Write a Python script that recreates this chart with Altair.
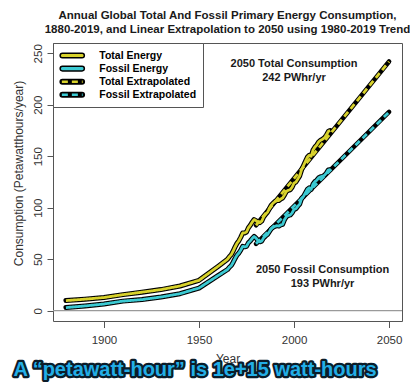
import altair as alt
import pandas as pd

# ---------------- data ----------------
years = [1880, 1890, 1900, 1910, 1920, 1930, 1940, 1950, 1960,
         1965, 1966, 1967, 1968, 1969, 1970, 1971, 1972, 1973, 1974,
         1975, 1976, 1977, 1978, 1979, 1980, 1981, 1982, 1983, 1984,
         1985, 1986, 1987, 1988, 1989, 1990, 1991, 1992, 1993, 1994,
         1995, 1996, 1997, 1998, 1999, 2000, 2001, 2002, 2003, 2004,
         2005, 2006, 2007, 2008, 2009, 2010, 2011, 2012, 2013, 2014,
         2015, 2016, 2017, 2018, 2019]

total_energy = [9.8, 11.2, 12.8, 15.6, 18.0, 20.5, 24.0, 29.5, 43.0,
                50.0, 52.5, 54.5, 58.0, 62.0, 65.5, 68.0, 71.5, 75.5, 75.5,
                76.5, 80.5, 83.0, 86.0, 88.5, 87.5, 86.0, 85.5, 87.0, 91.0,
                93.5, 95.5, 99.0, 102.5, 104.5, 106.0, 107.0, 107.0, 108.5, 109.5,
                112.5, 116.0, 117.0, 117.5, 120.0, 124.0, 125.0, 128.0, 131.0, 137.0,
                141.0, 145.0, 149.0, 151.0, 150.0, 156.0, 159.0, 161.0, 164.0, 165.5,
                166.5, 168.0, 170.5, 174.0, 175.0]

fossil_energy = [3.0, 4.6, 6.5, 9.3, 10.8, 13.3, 16.5, 22.0, 34.0,
                 40.0, 42.2, 43.9, 47.1, 50.8, 54.0, 56.0, 59.0, 62.5, 62.0,
                 62.5, 65.9, 67.8, 70.2, 72.1, 70.5, 68.2, 66.9, 67.6, 70.8,
                 72.5, 73.9, 76.8, 79.7, 81.1, 82.0, 82.6, 82.2, 83.3, 83.9,
                 88.5, 91.5, 92.5, 93.0, 95.0, 98.5, 99.0, 101.5, 103.6, 109.2,
                 111.0, 114.4, 117.8, 119.4, 117.8, 123.0, 125.4, 126.8, 129.2, 130.1,
                 130.5, 131.5, 133.6, 136.6, 137.0]

extrap_years = [1980, 2050]
total_extrap = [83, 242]
fossil_extrap = [65, 193]

series_names = ["Total Energy", "Fossil Energy", "Total Extrapolated", "Fossil Extrapolated"]
series_colors = ["#D8D22C", "#3CCAD3", "#D8D22C", "#3CCAD3"]
legend_fills = ["#D8D22C", "#3CCAD3", "#000000", "#000000"]
series_dashes = [[1, 0], [1, 0], [6, 4], [6, 4]]

ann_year = [2000, 2015]
ann_value = [240, 40]
ann_text = ["2050 Total Consumption\n242 PWhr/yr", "2050 Fossil Consumption\n193 PWhr/yr"]

title_lines = ["Annual Global Total And Fossil Primary Energy Consumption,",
               "1880-2019, and Linear Extrapolation to 2050 using 1980-2019 Trend"]
caption = "A \u201cpetawatt-hour\u201d is 1e+15 watt-hours"

x_ticks = [1900, 1950, 2000, 2050]
y_ticks = [0, 50, 100, 150, 200, 250]

# ---------------- table ----------------
rows = []
for yr, v in zip(years, total_energy):
    rows.append({"year": yr, "value": v, "series": series_names[0], "kind": "solid"})
for yr, v in zip(years, fossil_energy):
    rows.append({"year": yr, "value": v, "series": series_names[1], "kind": "solid"})
for yr, v in zip(extrap_years, total_extrap):
    rows.append({"year": yr, "value": v, "series": series_names[2], "kind": "extrap"})
for yr, v in zip(extrap_years, fossil_extrap):
    rows.append({"year": yr, "value": v, "series": series_names[3], "kind": "extrap"})
df = pd.DataFrame(rows)
# separate (non-merging) legend domain for the capsule backgrounds
fill_names = [s + " " for s in series_names]
df["series_fill"] = df["series"] + " "

ann_df = pd.DataFrame({"year": ann_year, "value": ann_value, "t": ann_text})
cap_df = pd.DataFrame({"t": [caption]})

FONT = "Liberation Sans"

xenc = alt.X("year:Q",
             scale=alt.Scale(domain=[1873.2, 2056.8], nice=False, zero=False),
             axis=alt.Axis(values=x_ticks, format="d", title="Year",
                           titleY=37, titleBaseline="middle",
                           labelPadding=6.5, tickSize=6.5))
yenc = alt.Y("value:Q",
             scale=alt.Scale(domain=[-10, 260], nice=False, zero=False),
             axis=alt.Axis(values=y_ticks, title="Consumption (Petawatthours/year)",
                           labelAngle=-90, labelAlign="center", labelBaseline="bottom",
                           labelPadding=4, tickSize=6,
                           titleX=-35, titleY=130, titleAngle=-90,
                           titleAlign="center", titleBaseline="middle"))

base = alt.Chart(df)

zero_rule = alt.Chart(pd.DataFrame({"value": [0]})).mark_rule(
    color="#9a9a9a", strokeWidth=1.2).encode(y=alt.Y("value:Q"))

# wide capsule drawn in a small symbol box so legend rows stay compact
capsule = "M-1.78,-0.42H1.78A0.42,0.42,0,0,1,1.78,0.42H-1.78A0.42,0.42,0,0,1,-1.78,-0.42Z"
dash_line = "M-2.1,0H2.1"

legA = alt.Legend(title=None, orient="none", legendX=0, legendY=0,
                  symbolType=capsule, symbolSize=121, symbolOffset=6.75,
                  symbolStrokeColor="black", symbolStrokeWidth=1.5, symbolOpacity=1,
                  strokeColor="#555555", fillColor="white", padding=6,
                  labelFont=FONT, labelFontSize=10.5, labelFontWeight="bold",
                  labelColor="black", labelOffset=20.5, rowPadding=1.1, zindex=1)

legB = alt.Legend(title=None, orient="none", legendX=0, legendY=0,
                  symbolType=dash_line, symbolSize=98, symbolOffset=6.75,
                  symbolStrokeWidth=2.6, symbolOpacity=1, padding=6,
                  labelFont=FONT, labelFontSize=10.5, labelFontWeight="bold",
                  labelOpacity=0, labelOffset=20.5, rowPadding=1.1, zindex=2)

legend_layer = base.transform_filter("datum.year < 0").mark_point(
    filled=True, stroke="black", strokeWidth=1.5).encode(
    x=xenc, y=yenc,
    fill=alt.Fill("series_fill:N",
                  scale=alt.Scale(domain=fill_names, range=legend_fills),
                  legend=legA))

outline_solid = base.transform_filter("datum.kind == 'solid'").mark_line(
    color="black", strokeWidth=5, strokeCap="round", strokeJoin="round").encode(
    x=xenc, y=yenc, detail="series:N")

outline_extrap = base.transform_filter("datum.kind == 'extrap'").mark_line(
    color="black", strokeWidth=4.6, strokeCap="round", strokeJoin="round").encode(
    x=xenc, y=yenc, detail="series:N")

colored = base.mark_line(strokeWidth=2.8, strokeCap="butt", strokeJoin="round").encode(
    x=xenc, y=yenc,
    color=alt.Color("series:N",
                    scale=alt.Scale(domain=series_names, range=series_colors),
                    legend=legB),
    strokeDash=alt.StrokeDash("series:N",
                              scale=alt.Scale(domain=series_names, range=series_dashes),
                              legend=legB))

ann = alt.Chart(ann_df).mark_text(
    font=FONT, fontSize=11, fontWeight="bold", lineBreak="\n", lineHeight=14,
    align="center", baseline="middle", color="#1a1a1a").encode(
    x=alt.X("year:Q"), y=alt.Y("value:Q"), text="t:N")

CAP_FONT = "Liberation Sans"
cap_back = alt.Chart(cap_df).mark_text(
    font=CAP_FONT, fontSize=20, fontWeight="bold", align="center", baseline="middle",
    color="#0b1d2a", stroke="#0b1d2a", strokeWidth=4.5, strokeJoin="round").encode(
    x=alt.value(142), y=alt.value(327), text="t:N")
cap_front = alt.Chart(cap_df).mark_text(
    font=CAP_FONT, fontSize=20, fontWeight="bold", align="center", baseline="middle",
    color="#22AEE6").encode(
    x=alt.value(142), y=alt.value(327), text="t:N")

chart = alt.layer(
    zero_rule, legend_layer, outline_solid, outline_extrap, colored, ann,
    cap_back, cap_front
).properties(
    width=349, height=278,
    title=alt.TitleParams(text=title_lines, font=FONT, fontSize=11.5, fontWeight="bold",
                          anchor="middle", frame="group", offset=7, lineHeight=14.5,
                          color="#1a1a1a"),
    padding={"left": 45, "top": 35, "right": 8, "bottom": 61},
    autosize=alt.AutoSizeParams(type="none"),
).configure_view(
    stroke="#555555", strokeWidth=1
).configure_axis(
    labelFont=FONT, labelFontSize=11.5, labelColor="#333333",
    titleFont=FONT, titleFontSize=12, titleColor="#333333", titleFontWeight="normal",
    tickColor="#555555", domain=False, grid=False
)

chart.save("out.html", embed_options={"renderer": "svg", "actions": False})
